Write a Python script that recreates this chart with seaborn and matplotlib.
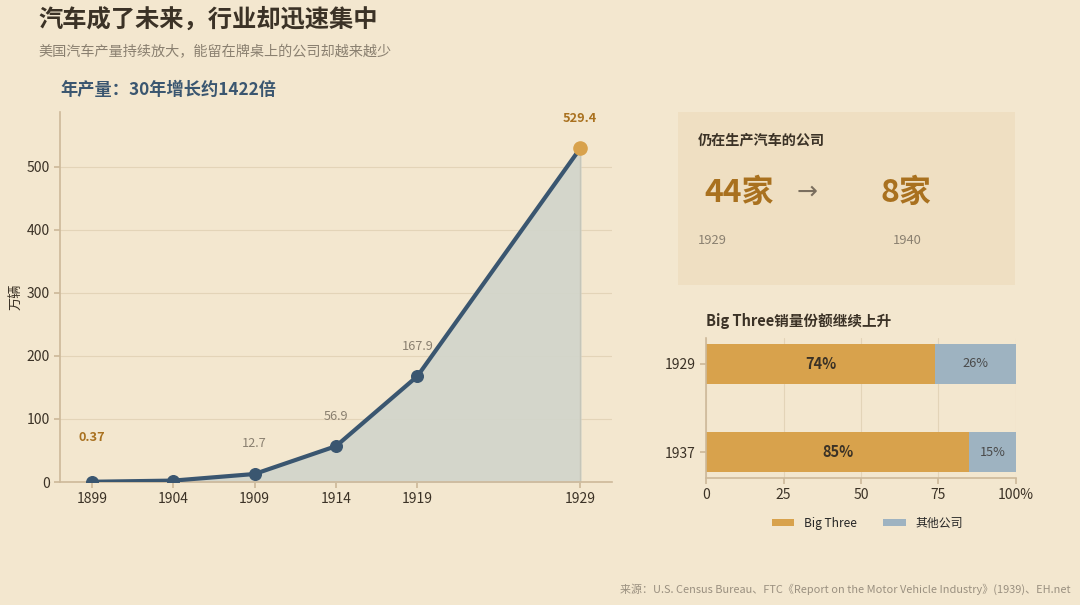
import numpy as np
import pandas as pd
import matplotlib
matplotlib.use("Agg")
import matplotlib.pyplot as plt
import seaborn as sns
from matplotlib.patches import FancyBboxPatch

# 年产量 (万辆)
years = [1899, 1904, 1909, 1914, 1919, 1929]
output = [0.37, 2.2, 12.7, 56.9, 167.9, 529.4]
label_years = [1899, 1909, 1914, 1919, 1929]

# Big Three 份额
share_years = ["1929", "1937"]
big_three = [74, 85]
others = [26, 15]

firms_1929 = 44
firms_1940 = 8

BG = "#F3E7CF"
NAVY = "#3A5670"
GOLD = "#D8A24C"
GOLD_TXT = "#A9711F"
BLUE = "#9EB3C1"
DARK = "#3B3226"
GRAY = "#8A8070"
SPINE = "#CDB99A"

sns.set_theme(style="white")
plt.rcParams["font.family"] = ["Noto Sans CJK SC", "DejaVu Sans"]

fig = plt.figure(figsize=(10.8, 6.05), dpi=100)
fig.patch.set_facecolor(BG)

# 标题
fig.text(38/1080, 1-20/605, "汽车成了未来，行业却迅速集中", fontsize=17.5, fontweight="bold",
         color=DARK, va="center", ha="left")
fig.text(38/1080, 1-52/605, "美国汽车产量持续放大，能留在牌桌上的公司却越来越少", fontsize=10.2,
         color=GRAY, va="center", ha="left")
fig.text(60/1080, 1-90/605, "年产量：30年增长约1422倍", fontsize=12.4, fontweight="bold",
         color=NAVY, va="center", ha="left")

# ---- 左：产量折线 ----
ax = fig.add_axes([60/1080, 1-482/605, 552/1080, 370/605])
ax.set_facecolor(BG)
df = pd.DataFrame({"year": years, "output": output})
ax.fill_between(df["year"], df["output"], 0, color="#D3D6CB", alpha=0.95, zorder=1)
ax.plot([years[-1], years[-1]], [0, output[-1]], color="#C5C6BA", lw=1, zorder=1)
sns.lineplot(data=df, x="year", y="output", ax=ax, color=NAVY, lw=3, zorder=3)
ax.scatter(years[:-1], output[:-1], s=70, color=NAVY, zorder=4)
ax.scatter(years[-1:], output[-1:], s=90, color=GOLD, zorder=4)

for y, v in zip(years, output):
    if y not in label_years:
        continue
    if y in (years[0], years[-1]):
        off = 44 if y == years[0] else 30
        ax.annotate(f"{v:g}", (y, v), xytext=(0, off*0.72), textcoords="offset points",
                    ha="center", va="center", fontsize=9.2, fontweight="bold", color=GOLD_TXT)
    else:
        ax.annotate(f"{v:g}", (y, v), xytext=(0, 30*0.72), textcoords="offset points",
                    ha="center", va="center", fontsize=9.2, color=GRAY)

ax.set_xlim(1897.05, 1930.95)
ax.set_ylim(0, 587)
ax.set_xticks(years)
ax.set_yticks([0, 100, 200, 300, 400, 500])
ax.set_xlabel("")
ax.set_ylabel("万辆", fontsize=9.5, color=DARK, labelpad=3)
ax.grid(axis="y", color="#E3D4B8", lw=0.8)
ax.set_axisbelow(True)
for s in ["top", "right"]:
    ax.spines[s].set_visible(False)
for s in ["left", "bottom"]:
    ax.spines[s].set_color(SPINE)
    ax.spines[s].set_linewidth(1.2)
ax.tick_params(colors=DARK, labelsize=10, length=4, color=SPINE, bottom=True, left=True)

# ---- 右上：公司数量卡片 ----
card = FancyBboxPatch((678/1080, 1-285/605), 337/1080, 173/605,
                      boxstyle="square,pad=0", transform=fig.transFigure,
                      facecolor="#EFDFC2", edgecolor="none", zorder=0)
fig.patches.append(card)
fig.text(698/1080, 1-141/605, "仍在生产汽车的公司", fontsize=10.2, fontweight="bold",
         color=DARK, va="center", ha="left")
fig.text(704/1080, 1-193/605, f"{firms_1929}家", fontsize=23, fontweight="bold",
         color=GOLD_TXT, va="center", ha="left")
fig.text(807/1080, 1-192/605, "→", fontsize=18, color="#7A6E5E", va="center", ha="center",
         family=["DejaVu Sans"])
fig.text(880/1080, 1-193/605, f"{firms_1940}家", fontsize=23, fontweight="bold",
         color=GOLD_TXT, va="center", ha="left")
fig.text(698/1080, 1-241/605, "1929", fontsize=9.3, color=GRAY, va="center", ha="left")
fig.text(893/1080, 1-241/605, "1940", fontsize=9.3, color=GRAY, va="center", ha="left")

# ---- 右下：份额堆叠条 ----
fig.text(706/1080, 1-321/605, "Big Three销量份额继续上升", fontsize=10.5, fontweight="bold",
         color=DARK, va="center", ha="left")
bx = fig.add_axes([706/1080, 1-478/605, 310/1080, 140/605])
bx.set_facecolor(BG)
sdf = pd.DataFrame({"year": share_years, "big": big_three, "other": others})
sdf["total"] = sdf["big"] + sdf["other"]
sns.barplot(data=sdf, x="total", y="year", ax=bx, color=BLUE, width=0.455,
            label="其他公司", saturation=1, linewidth=0, edgecolor="none")
sns.barplot(data=sdf, x="big", y="year", ax=bx, color=GOLD, width=0.455,
            label="Big Three", saturation=1, linewidth=0, edgecolor="none")
for i, (b, o) in enumerate(zip(big_three, others)):
    bx.text(b/2, i, f"{b}%", ha="center", va="center", fontsize=10.5, fontweight="bold", color=DARK)
    bx.text(b + o/2, i, f"{o}%", ha="center", va="center", fontsize=9.2, color="#4A4A4A")
bx.set_xlim(0, 100)
bx.set_ylim(1.295, -0.295)
bx.set_xticks([0, 25, 50, 75, 100])
bx.set_xticklabels(["0", "25", "50", "75", "100%"])
bx.set_xlabel("")
bx.set_ylabel("")
bx.grid(axis="x", color="#E3D4B8", lw=0.8)
bx.set_axisbelow(True)
for s in ["top", "right"]:
    bx.spines[s].set_visible(False)
for s in ["left", "bottom"]:
    bx.spines[s].set_color(SPINE)
    bx.spines[s].set_linewidth(1.2)
bx.tick_params(colors=DARK, labelsize=10, length=4, color=SPINE, bottom=True, left=True)
h, l = bx.get_legend_handles_labels()
order = [l.index("Big Three"), l.index("其他公司")]
bx.legend([h[i] for i in order], [l[i] for i in order], loc="upper center",
          bbox_to_anchor=(0.52, -0.2), ncol=2, frameon=False, fontsize=8.6,
          handlelength=1.9, handleheight=0.6, handletextpad=0.8, columnspacing=2.2)

fig.text(1071/1080, 1-589/605,
         "来源：U.S. Census Bureau、FTC《Report on the Motor Vehicle Industry》(1939)、EH.net",
         fontsize=7.9, color="#9A9080", ha="right", va="center")

fig.savefig("out.png", dpi=100, facecolor=BG)
